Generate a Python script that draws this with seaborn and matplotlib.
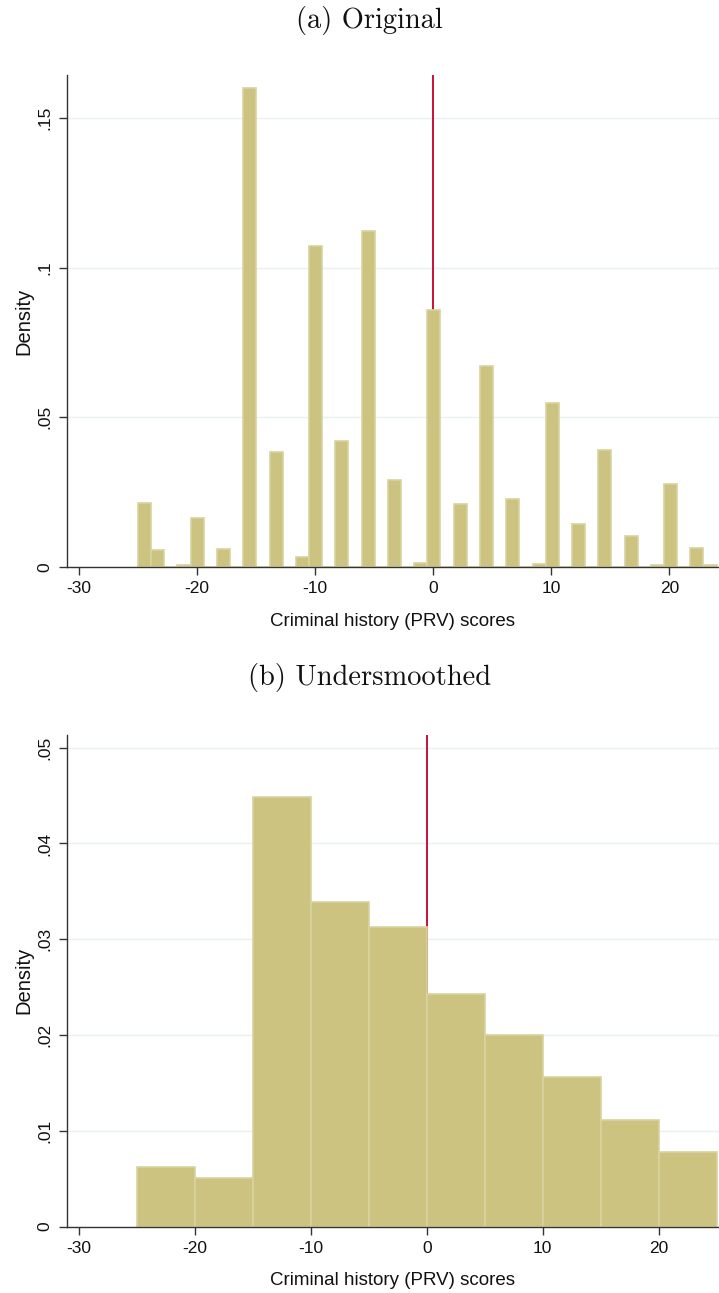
import numpy as np
import pandas as pd
import matplotlib
matplotlib.use("Agg")
import matplotlib.pyplot as plt
import seaborn as sns

# ---- data ----
# Panel (a): 44 bins from -25 to 24
orig_lo, orig_hi, orig_nbins = -25.0, 24.0, 44
orig_density = [
    0.0213, 0.0056, 0.0, 0.0005, 0.0163, 0.0, 0.0059, 0.0, 0.1599, 0.0,
    0.0383, 0.0, 0.0032, 0.1071, 0.0, 0.0420, 0.0, 0.1122, 0.0, 0.0290,
    0.0, 0.0013, 0.0857, 0.0, 0.0210, 0.0, 0.0671, 0.0, 0.0226, 0.0,
    0.0011, 0.0547, 0.0, 0.0143, 0.0, 0.0391, 0.0, 0.0105, 0.0, 0.0006,
    0.0276, 0.0, 0.0062, 0.0005,
]
# Panel (b): bins of width 5 from -25 to 25
under_edges = [-25, -20, -15, -10, -5, 0, 5, 10, 15, 20, 25]
under_density = [0.0062, 0.00505, 0.0449, 0.0339, 0.03125,
                 0.0243, 0.0200, 0.0156, 0.0111, 0.00777]

titles = ["(a) Original", "(b) Undersmoothed"]
xlabel = "Criminal history (PRV) scores"
ylabel = "Density"
x_ticks = [-30, -20, -10, 0, 10, 20]
y_ticks_a = [0, 0.05, 0.10, 0.15]
y_ticks_a_lab = ["0", ".05", ".1", ".15"]
y_ticks_b = [0, 0.01, 0.02, 0.03, 0.04, 0.05]
y_ticks_b_lab = ["0", ".01", ".02", ".03", ".04", ".05"]
cutoff = 0

orig_edges = [float(v) for v in np.linspace(orig_lo, orig_hi, orig_nbins + 1)]
orig_centers = [(orig_edges[i] + orig_edges[i + 1]) / 2 for i in range(orig_nbins)]
df_a = pd.DataFrame({"x": orig_centers, "w": orig_density})
under_edges = [float(v) for v in under_edges]
under_centers = [(under_edges[i] + under_edges[i + 1]) / 2 for i in range(len(under_edges) - 1)]
df_b = pd.DataFrame({"x": under_centers, "w": under_density})

sns.set_theme(style="white")
plt.rcParams["font.family"] = ["Liberation Sans", "DejaVu Sans"]

FILL = "#CBC37F"
EDGE = "#D8D3A0"
GRID = "#EAF1F3"
AX = "#333333"
RED = "#C8103C"

fig = plt.figure(figsize=(7.19, 12.93), dpi=100)
ax_a = fig.add_axes([0.0928, 0.5615, 0.9072, 0.3805])
ax_b = fig.add_axes([0.0928, 0.0513, 0.9072, 0.3803])

panels = [
    (ax_a, df_a, orig_edges, (-31.04, 24.2), (0, 0.1643), y_ticks_a, y_ticks_a_lab),
    (ax_b, df_b, under_edges, (-31.06, 25.2), (0, 0.05133), y_ticks_b, y_ticks_b_lab),
]

for ax, df, edges, xl, yl, yt, ytl in panels:
    ax.axvline(cutoff, color=RED, lw=1.4, zorder=1)
    sns.histplot(data=df, x="x", weights="w", bins=edges, stat="count",
                 color=FILL, edgecolor=EDGE, linewidth=1.2, alpha=1.0,
                 ax=ax, zorder=2)
    ax.set_xlim(*xl)
    ax.set_ylim(*yl)
    ax.set_xticks(x_ticks)
    ax.set_xticklabels([str(t) for t in x_ticks], fontsize=12.5)
    ax.set_yticks(yt)
    ax.set_yticklabels(ytl, fontsize=12.5, rotation=90, va="center")
    ax.yaxis.grid(True, color=GRID, lw=1.0, zorder=0)
    ax.set_axisbelow(True)
    for s in ["top", "right"]:
        ax.spines[s].set_visible(False)
    for s in ["left", "bottom"]:
        ax.spines[s].set_color(AX)
        ax.spines[s].set_linewidth(1.0)
    ax.tick_params(axis="both", direction="out", length=6, width=1.0,
                   color=AX, labelcolor="#111111", bottom=True, left=True, pad=4)
    ax.set_xlabel(xlabel, fontsize=13.5, color="#111111", labelpad=12)
    ax.set_ylabel(ylabel, fontsize=14.5, color="#111111", labelpad=3)

fig.text(0.514, 0.9845, titles[0], family="cmr10", fontsize=20.5,
         ha="center", va="center", color="#111111")
fig.text(0.514, 0.4764, titles[1], family="cmr10", fontsize=20.5,
         ha="center", va="center", color="#111111")

fig.savefig("out.png", dpi=100, facecolor="white")
